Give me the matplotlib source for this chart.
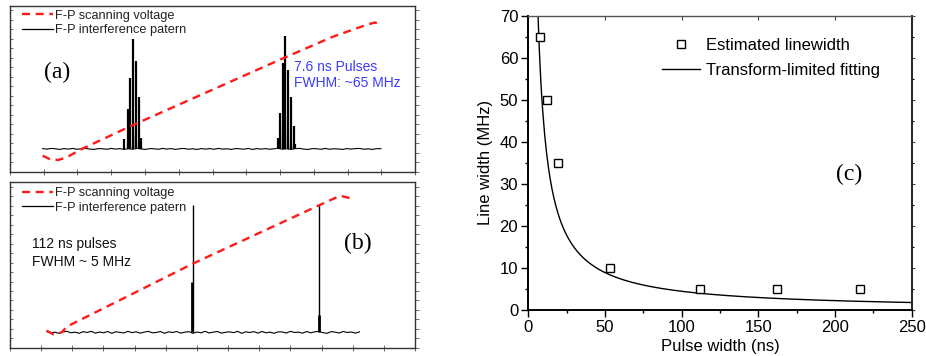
import matplotlib
matplotlib.use('Agg')
import matplotlib.pyplot as plt
import numpy as np
from matplotlib.ticker import MultipleLocator
from matplotlib.lines import Line2D

plt.rcParams['font.family'] = ['Liberation Sans', 'DejaVu Sans']

# ---------------- data ----------------
# Panel (a): 7.6 ns pulses (axis units 0-100, arbitrary)
a_ramp_x = [8.07, 9.88, 11.93, 14.0, 18.1, 30.4, 67.5, 79.8, 88.1, 90.1, 91.4]
a_ramp_y = [9.64, 7.45, 7.05, 8.7, 14.1, 28.1, 68.3, 81.3, 88.4, 89.8, 88.4]
a_base = 13.7
a_trace_start, a_trace_end = 8.07, 91.6
a_noise = [0.2, -0.1, 0.3, 0.1, -0.3, 0.2, -0.1, 0.3, -0.2, 0.1, 0.3, -0.1, -0.3, 0.2, 0.1,
           -0.2, 0.3, -0.1, 0.2, -0.3, 0.1, -0.2, 0.3, 0.0, -0.3, 0.2, 0.1, -0.2, 0.3, -0.1,
           0.2, -0.3, 0.1, 0.3, -0.2, 0.1, -0.3, 0.2, -0.1, 0.2, -0.2, 0.3, -0.1, 0.1, -0.3,
           0.2, 0.1, -0.2, 0.3, -0.3, 0.2, -0.1, 0.2, -0.2, 0.1, 0.3, -0.2, 0.1, -0.3, 0.2,
           0.3, -0.1, -0.3, 0.2, 0.1, -0.2, 0.3, -0.2, 0.1, 0.0, -0.3, 0.2, -0.1, 0.2, 0.3,
           -0.2, 0.1, -0.3, 0.2, 0.1]
a_peak_x = [28.2, 29.1, 29.6, 30.4, 31.0, 31.8, 32.4,
            66.1, 66.7, 67.3, 68.0, 68.6, 69.3, 70.0, 70.4]
a_peak_y = [19.5, 38.0, 56.4, 79.9, 66.7, 45.2, 20.5,
            20.5, 35.5, 65.7, 81.7, 61.3, 45.2, 27.5, 16.7]

# Panel (b): 112 ns pulses
b_ramp_x = [9.05, 10.7, 12.8, 14.0, 45.3, 76.5, 81.5, 84.8]
b_ramp_y = [10.3, 8.1, 9.3, 12.7, 51.0, 86.3, 91.9, 89.9]
b_base = 9.3
b_trace_start, b_trace_end = 9.05, 86.3
b_noise = [0.5, -0.4, 0.1, -0.6, 0.3, 0.6, -0.3, 0.1, -0.6, 0.4, -0.1, 0.6, -0.5, 0.2, -0.3,
           0.5, -0.6, 0.3, 0.0, -0.4, 0.6, -0.2, 0.3, -0.5, 0.1, 0.6, -0.3, -0.1, 0.5, -0.6,
           0.3, -0.1, 0.5, -0.5, 0.1, 0.4, -0.6, 0.2, -0.3, 0.6, -0.4, 0.1, 0.5, -0.5, 0.0,
           0.3, -0.2, 0.6, -0.6, 0.3, -0.1, 0.4, -0.5, 0.5, -0.3, 0.1, -0.6, 0.3, 0.2, -0.4,
           0.6, -0.1, 0.1, -0.5, 0.5, -0.3, 0.3, 0.6, -0.2, -0.6, 0.4, 0.1, -0.4, 0.5, -0.1,
           0.2, -0.5, 0.3]
b_peak_x = [45.1, 76.4]
b_peak_y = [86.3, 86.3]
b_shoulder_x = [44.95, 76.25]
b_shoulder_y = [39.9, 19.8]

# Panel (c)
c_pulse_ns = [7.6, 12.5, 19.5, 53, 112, 162, 216]
c_width_mhz = [65, 50, 35, 10, 5, 5, 5]
tbp_mhz_ns = 445.0          # transform-limited product used for the fitting curve
fit_x = np.linspace(tbp_mhz_ns / 70.0, 250, 400)
fit_y = tbp_mhz_ns / fit_x

# ---------------- figure ----------------
W, H = 926, 356
fig = plt.figure(figsize=(W / 100, H / 100), dpi=100)

red = '#ff1a1a'
blue = '#3b3bff'

def panel_axes(top_px, bot_px):
    return fig.add_axes([10 / W, (H - bot_px) / H, 405 / W, (bot_px - top_px) / H])

ax_a = panel_axes(5.5, 171.7)
ax_b = panel_axes(182.3, 347.7)

def style_panel(ax, nx):
    ax.set_xlim(0, 100)
    ax.set_ylim(0, 100)
    ax.xaxis.set_major_locator(MultipleLocator(100 / nx))
    ax.yaxis.set_major_locator(MultipleLocator(100 / 17.5))
    ax.tick_params(axis='y', which='both', left=True, right=False, direction='in',
                   length=2.5, width=0.6, color='#555555', labelleft=False)
    ax.tick_params(axis='x', which='both', bottom=True, top=False, direction='inout',
                   length=4, width=0.6, color='#555555', labelbottom=False)
    sy = ax.secondary_yaxis('right')
    sy.yaxis.set_major_locator(MultipleLocator(100 / 17.5))
    sy.tick_params(direction='out', length=3, width=0.6, color='#555555', labelright=False)
    sy.spines['right'].set_visible(False)
    for s in ax.spines.values():
        s.set_linewidth(1.0)
        s.set_color('#333333')

def draw_trace(ax, start, end, base, noise):
    nx = np.linspace(start, end, len(noise))
    ax.plot(nx, base + np.array(noise), color='black', lw=0.8, zorder=2)

# Panel (a)
style_panel(ax_a, 12)
draw_trace(ax_a, a_trace_start, a_trace_end, a_base, a_noise)
for px, py in zip(a_peak_x, a_peak_y):
    ax_a.fill([px - 0.32, px, px + 0.32], [a_base, py * 0.55 + a_base * 0.45, a_base],
              color='#a0a0a0', lw=0, zorder=2)
ax_a.vlines(a_peak_x, a_base, a_peak_y, color='black', lw=1.6, zorder=3)
ax_a.plot(a_ramp_x, a_ramp_y, color=red, lw=1.7, dashes=(3.4, 2.4), zorder=4)
ax_a.text(11.7, 59.8, '(a)', family=['Liberation Serif'], fontsize=17, ha='center', va='center')
ax_a.text(70.0, 60.4, '7.6 ns Pulses', color=blue, fontsize=10, va='baseline')
ax_a.text(70.0, 51.0, 'FWHM: ~65 MHz', color=blue, fontsize=10, va='baseline')

# Panel (b)
style_panel(ax_b, 13)
draw_trace(ax_b, b_trace_start, b_trace_end, b_base, b_noise)
ax_b.vlines(b_shoulder_x, b_base, b_shoulder_y, color='black', lw=2.0, zorder=3)
ax_b.vlines(b_peak_x, b_base, b_peak_y, color='black', lw=1.0, zorder=3)
ax_b.plot(b_ramp_x, b_ramp_y, color=red, lw=1.7, dashes=(3.4, 2.4), zorder=4)
ax_b.text(86, 63, '(b)', family=['Liberation Serif'], fontsize=17, ha='center', va='center')
ax_b.text(5.35, 60.3, '112 ns pulses', color='#111111', fontsize=10, va='baseline')
ax_b.text(5.35, 49.6, 'FWHM ~ 5 MHz', color='#111111', fontsize=10, va='baseline')

for ax, cy in ((ax_a, 0.895), (ax_b, 0.89)):
    handles = [Line2D([], [], color=red, lw=1.7, dashes=(3.4, 2.4)),
               Line2D([], [], color='black', lw=0.9)]
    ax.legend(handles, ['F-P scanning voltage', 'F-P interference patern'],
              loc='center left', bbox_to_anchor=(0.029, cy), frameon=False,
              fontsize=9.2, handlelength=2.45, handletextpad=0.15, borderpad=0,
              borderaxespad=0, labelspacing=0.2, labelcolor='#222222')

# Panel (c)
ax_c = fig.add_axes([528.3 / W, (H - 310) / H, 383.4 / W, 294.3 / H])
ax_c.plot(fit_x, fit_y, color='black', lw=1.0, label='Transform-limited fitting', zorder=2)
ax_c.plot(c_pulse_ns, c_width_mhz, ls='none', marker='s', ms=5.6, mfc='white', mec='black',
          mew=1.0, label='Estimated linewidth', zorder=3)
ax_c.set_xlim(0, 250)
ax_c.set_ylim(0, 70)
ax_c.xaxis.set_major_locator(MultipleLocator(50))
ax_c.xaxis.set_minor_locator(MultipleLocator(25))
ax_c.yaxis.set_major_locator(MultipleLocator(10))
ax_c.yaxis.set_minor_locator(MultipleLocator(5))
ax_c.tick_params(which='major', direction='out', length=4.8, width=1.0, labelsize=12, pad=2.5,
                 top=False, right=False)
ax_c.tick_params(which='minor', direction='out', length=2.4, width=1.0, top=False, right=False)
sec_x = ax_c.secondary_xaxis('top')
sec_x.xaxis.set_major_locator(MultipleLocator(50))
sec_x.xaxis.set_minor_locator(MultipleLocator(25))
sec_x.tick_params(which='major', direction='in', length=3, width=0.8, labeltop=False, color='#444444')
sec_x.tick_params(which='minor', direction='in', length=0)
sec_x.spines['top'].set_visible(False)
sec_y = ax_c.secondary_yaxis('right')
sec_y.yaxis.set_major_locator(MultipleLocator(10))
sec_y.yaxis.set_minor_locator(MultipleLocator(5))
sec_y.tick_params(which='major', direction='out', length=2.5, width=0.8, labelright=False, color='#444444')
sec_y.tick_params(which='minor', direction='out', length=1.5, width=0.8)
sec_y.spines['right'].set_visible(False)
ax_c.spines['left'].set_linewidth(1.4)
ax_c.spines['bottom'].set_linewidth(1.4)
ax_c.spines['right'].set_linewidth(1.4)
ax_c.spines['right'].set_color('#222222')
ax_c.spines['top'].set_linewidth(1.0)
ax_c.spines['top'].set_color('#555555')
ax_c.set_xlabel('Pulse width (ns)', fontsize=12, labelpad=2.5)
ax_c.set_ylabel('Line width (MHz)', fontsize=12, labelpad=5)
ax_c.text(209.4, 32.3, '(c)', family=['Liberation Serif'], fontsize=17, ha='center', va='center')
h, l = ax_c.get_legend_handles_labels()
ax_c.legend([h[1], h[0]], [l[1], l[0]], loc='center left', bbox_to_anchor=(0.349, 0.856),
            frameon=False, fontsize=12, handlelength=2.3, handletextpad=0.35, borderpad=0,
            borderaxespad=0, labelspacing=0.6)

fig.savefig('out.png', dpi=100)
